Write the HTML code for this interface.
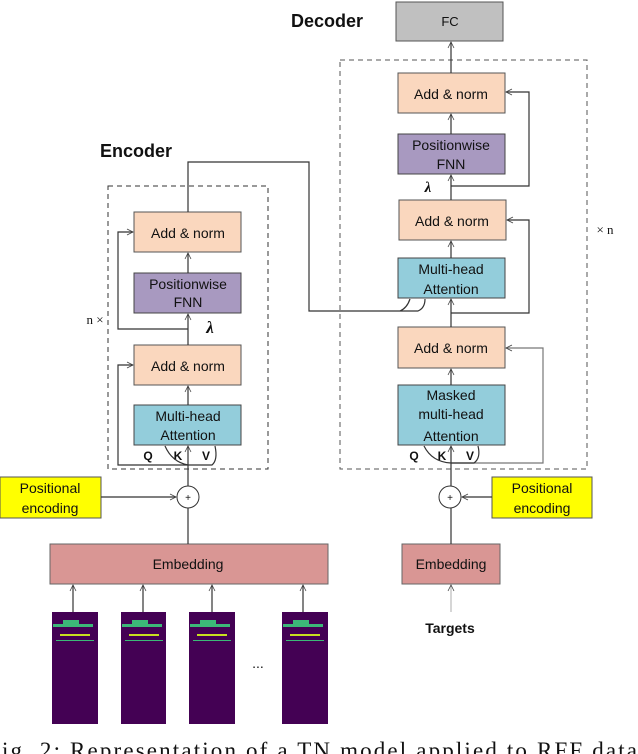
<!DOCTYPE html>
<html><head><meta charset="utf-8"><style>
html,body{margin:0;padding:0;background:#fff;}
svg{display:block;}
.s{font-family:"Liberation Sans",sans-serif;}
.r{font-family:"Liberation Serif",serif;}
</style></head><body>
<svg width="638" height="754" viewBox="0 0 638 754" xmlns="http://www.w3.org/2000/svg">
<defs>
<marker id="a" markerWidth="8" markerHeight="8" refX="7" refY="4" orient="auto" markerUnits="userSpaceOnUse">
<path d="M1,1 L7,4 L1,7" fill="none" stroke="#444" stroke-width="0.8"/></marker>
</defs>
<g class="s" font-size="14" text-anchor="middle" fill="#111">
<text x="136" y="157" font-weight="bold" font-size="18">Encoder</text>
<text x="327" y="27" font-weight="bold" font-size="18">Decoder</text>

<rect x="108" y="186" width="160" height="283" fill="none" stroke="#333" stroke-dasharray="5,4"/>
<text class="r" x="95" y="324" font-size="13">n ×</text>

<rect x="134" y="212" width="107" height="40" fill="#fad7be" stroke="#555"/>
<text x="188" y="238">Add &amp; norm</text>
<rect x="134" y="273" width="107" height="40" fill="#a899c0" stroke="#444"/>
<text x="188" y="289">Positionwise</text><text x="188" y="307">FNN</text>
<text class="r" x="210" y="333" font-style="italic" font-size="17" font-weight="bold">λ</text>
<rect x="134" y="345" width="107" height="40" fill="#fad7be" stroke="#555"/>
<text x="188" y="371">Add &amp; norm</text>
<rect x="134" y="405" width="107" height="40" fill="#93cddb" stroke="#444"/>
<text x="188" y="421">Multi-head</text><text x="188" y="440">Attention</text>
<g font-weight="bold" font-size="12"><text x="148" y="460">Q</text><text x="178" y="460">K</text><text x="206" y="460">V</text></g>

<rect x="396" y="2" width="107" height="39" fill="#c0c0c0" stroke="#555"/>
<text x="450" y="26" font-size="13">FC</text>
<rect x="340" y="60" width="247" height="409" fill="none" stroke="#555" stroke-dasharray="5,4"/>
<text class="r" x="605" y="234" font-size="13">× n</text>
<rect x="398" y="73" width="107" height="40" fill="#fad7be" stroke="#555"/>
<text x="451" y="99">Add &amp; norm</text>
<rect x="398" y="134" width="107" height="40" fill="#a899c0" stroke="#444"/>
<text x="451" y="150">Positionwise</text><text x="451" y="169">FNN</text>
<text class="r" x="428" y="192" font-style="italic" font-size="15" font-weight="bold">λ</text>
<rect x="399" y="200" width="107" height="40" fill="#fad7be" stroke="#555"/>
<text x="452" y="226">Add &amp; norm</text>
<rect x="398" y="258" width="107" height="40" fill="#93cddb" stroke="#444"/>
<text x="451" y="274">Multi-head</text><text x="451" y="294">Attention</text>
<rect x="398" y="327" width="107" height="41" fill="#fad7be" stroke="#555"/>
<text x="451" y="353">Add &amp; norm</text>
<rect x="398" y="385" width="107" height="60" fill="#93cddb" stroke="#444"/>
<text x="451" y="400">Masked</text><text x="451" y="419">multi-head</text><text x="451" y="441">Attention</text>
<g font-weight="bold" font-size="12"><text x="414" y="460">Q</text><text x="442" y="460">K</text><text x="470" y="460">V</text></g>

<rect x="0" y="477" width="101" height="41" fill="#ffff00" stroke="#555"/>
<text x="50" y="493">Positional</text><text x="50" y="513">encoding</text>
<rect x="492" y="477" width="100" height="41" fill="#ffff00" stroke="#555"/>
<text x="542" y="493">Positional</text><text x="542" y="513">encoding</text>
<circle cx="188" cy="497" r="11" fill="#fff" stroke="#333"/><text x="188" y="501" font-size="10">+</text>
<circle cx="450" cy="497" r="11" fill="#fff" stroke="#333"/><text x="450" y="501" font-size="10">+</text>

<rect x="50" y="544" width="278" height="40" fill="#d99694" stroke="#666"/>
<text x="188" y="569">Embedding</text>
<rect x="402" y="544" width="98" height="40" fill="#d99694" stroke="#666"/>
<text x="451" y="569">Embedding</text>
<text x="450" y="633" font-weight="bold">Targets</text>
<text x="258" y="668" font-size="14">...</text>
</g>

<g>
<rect x="52" y="612" width="46" height="112" fill="#440154"/>
<rect x="121" y="612" width="45" height="112" fill="#440154"/>
<rect x="189" y="612" width="46" height="112" fill="#440154"/>
<rect x="282" y="612" width="46" height="112" fill="#440154"/>
</g>
<g fill="#3cb878">
<rect x="53" y="624" width="40" height="3"/><rect x="63" y="620" width="16" height="4"/><rect x="60" y="634" width="30" height="2" fill="#c8e020"/><rect x="56" y="640" width="38" height="1"/>
<rect x="122" y="624" width="40" height="3"/><rect x="132" y="620" width="16" height="4"/><rect x="129" y="634" width="30" height="2" fill="#c8e020"/><rect x="125" y="640" width="38" height="1"/>
<rect x="190" y="624" width="40" height="3"/><rect x="200" y="620" width="16" height="4"/><rect x="197" y="634" width="30" height="2" fill="#c8e020"/><rect x="193" y="640" width="38" height="1"/>
<rect x="283" y="624" width="40" height="3"/><rect x="293" y="620" width="16" height="4"/><rect x="290" y="634" width="30" height="2" fill="#c8e020"/><rect x="286" y="640" width="38" height="1"/>
</g>

<g stroke="#333" stroke-width="1.2" fill="none">
<line x1="73" y1="612" x2="73" y2="585" marker-end="url(#a)"/>
<line x1="143" y1="612" x2="143" y2="585" marker-end="url(#a)"/>
<line x1="212" y1="612" x2="212" y2="585" marker-end="url(#a)"/>
<line x1="303" y1="612" x2="303" y2="585" marker-end="url(#a)"/>
<line x1="188" y1="544" x2="188" y2="508"/>
<line x1="101" y1="497" x2="176" y2="497" marker-end="url(#a)"/>
<line x1="188" y1="486" x2="188" y2="446" marker-end="url(#a)"/>
<path d="M188,465 H118 V365 H133" marker-end="url(#a)"/>
<path d="M188,465 Q172,462 165,446"/>
<path d="M188,465 H212 Q218,460 215,446"/>
<line x1="188" y1="405" x2="188" y2="386" marker-end="url(#a)"/>
<line x1="188" y1="345" x2="188" y2="314" marker-end="url(#a)"/>
<path d="M188,329 H118 V232 H133" marker-end="url(#a)"/>
<line x1="188" y1="273" x2="188" y2="253" marker-end="url(#a)"/>
<path d="M188,212 V162 H309 V311 H418 Q425,308 425,299"/>
<path d="M400,311 Q407,308 410,299"/>
<line x1="451" y1="73" x2="451" y2="42" marker-end="url(#a)"/>
<line x1="451" y1="134" x2="451" y2="114" marker-end="url(#a)"/>
<path d="M451,186 H529 V92 H506" marker-end="url(#a)"/>
<line x1="451" y1="200" x2="451" y2="175" marker-end="url(#a)"/>
<line x1="451" y1="258" x2="451" y2="241" marker-end="url(#a)"/>
<path d="M451,313 H529 V220 H507" marker-end="url(#a)"/>
<line x1="451" y1="327" x2="451" y2="299" marker-end="url(#a)"/>
<line x1="451" y1="385" x2="451" y2="369" marker-end="url(#a)"/>
<path d="M451,463 H543 V348 H506" marker-end="url(#a)" stroke="#777"/>
<path d="M451,463 Q432,462 424,446"/>
<path d="M451,463 H474 Q481,458 478,446"/>
<line x1="451" y1="486" x2="451" y2="446" marker-end="url(#a)"/>
<line x1="451" y1="544" x2="451" y2="508"/>
<line x1="492" y1="497" x2="462" y2="497" marker-end="url(#a)"/>
<line x1="451" y1="612" x2="451" y2="585" stroke="#bbb" marker-end="url(#a)"/>
</g>

<text class="r" x="-13" y="758" font-size="23" fill="#111" textLength="650" lengthAdjust="spacing">Fig. 2: Representation of a TN model applied to RFF data</text>
</svg>
</body></html>
